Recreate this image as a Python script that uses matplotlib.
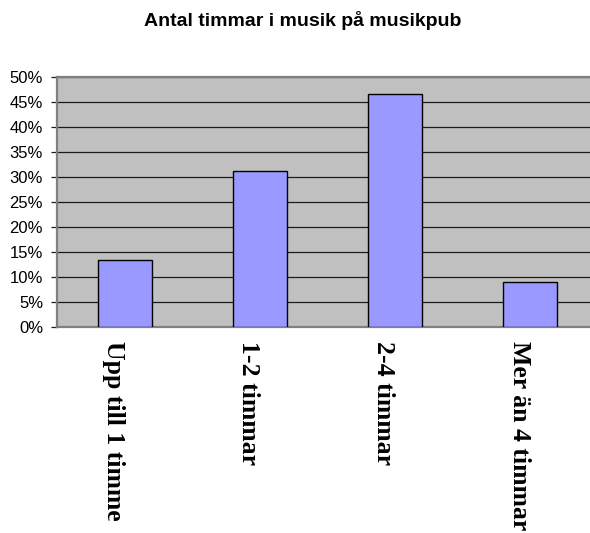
import numpy as np
import matplotlib
matplotlib.use("Agg")
import matplotlib.pyplot as plt
import matplotlib.transforms as mtransforms
from matplotlib.ticker import FuncFormatter, MultipleLocator

# data
categories = ['Upp till 1 timme', '1-2 timmar', '2-4 timmar', 'Mer än 4 timmar']
shares = [0.133, 0.311, 0.466, 0.090]
title = 'Antal timmar i musik på musikpub'

fig = plt.figure(figsize=(5.9, 5.33), dpi=100)
# plot area runs a little past the right edge, as in the original
ax = fig.add_axes([57 / 590, 206.3 / 533, (597.7 - 57) / 590, 250 / 533])

ax.set_facecolor('#C0C0C0')
x = np.arange(len(categories))
ax.bar(x, shares, width=0.40, color='#9999FF', edgecolor='#000000',
       linewidth=1.0, zorder=3)

ax.set_xlim(-0.5, len(categories) - 0.5)
ax.set_ylim(0, 0.5)
ax.yaxis.set_major_locator(MultipleLocator(0.05))
ax.yaxis.set_major_formatter(FuncFormatter(lambda v, p: f'{v * 100:.0f}%'))
ax.grid(axis='y', color='#1a1a1a', linewidth=0.9, zorder=1)
ax.set_axisbelow(True)

for side in ['left', 'top', 'bottom']:
    ax.spines[side].set_color('#808080')
    ax.spines[side].set_linewidth(1.6)
ax.spines['right'].set_visible(False)

ax.tick_params(axis='y', direction='out', length=4, width=0.9, color='#1a1a1a',
               labelsize=12, pad=6)
for lbl in ax.get_yticklabels():
    lbl.set_fontfamily('Liberation Sans')
ax.set_xticks([])

# rotated category labels below the plot area
trans = mtransforms.blended_transform_factory(ax.transData, ax.transAxes)
shift = mtransforms.ScaledTranslation(-8 / 72, 0, fig.dpi_scale_trans)
for xi, name in zip(x, categories):
    ax.text(xi, -0.058, name, transform=trans + shift, rotation=-90,
            ha='center', va='top', fontsize=18.5, fontweight='bold',
            family='Liberation Serif', clip_on=False)

fig.text(303 / 590, 1 - 20 / 533, title, ha='center', va='center',
         fontsize=14, fontweight='bold', family='Liberation Sans')

fig.savefig('out.png', dpi=100)
